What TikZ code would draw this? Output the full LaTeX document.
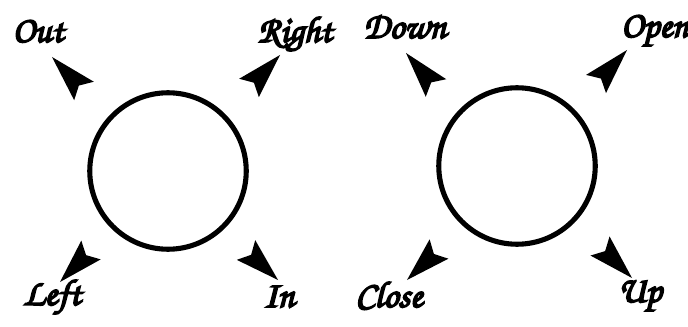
\documentclass[tikz,border=0pt]{standalone}
\usepackage{tikz}
\usetikzlibrary{calc}
\font\calli="[texgyrechorus-mediumitalic.otf]:embolden=4.5" at 21pt

\begin{document}
\begin{tikzpicture}[x=0.02cm, y=-0.02cm,
      dial/.style={draw, circle, line width=2.9pt, inner sep=0pt, minimum size=3.13cm},
      flick/.style={fill=black},
      word/.style={font=\calli, anchor=base, inner sep=0pt}]
    \path[use as bounding box] (0,0) rectangle (688,327);
    % left dial
    \node[dial] (ldial) at (168,171) {};
    \coordinate (outback) at (84,91);    \coordinate (outtip) at (52,57);
    \coordinate (rightback) at (249,88); \coordinate (righttip) at (280,55);
    \coordinate (leftback) at (91,250);  \coordinate (lefttip) at (60,282);
    \coordinate (inback) at (246,250);   \coordinate (intip) at (278,280);
    % right dial
    \node[dial] (rdial) at (517,166) {};
    \coordinate (downback) at (436,88);   \coordinate (downtip) at (406,53);
    \coordinate (openback) at (596,84);   \coordinate (opentip) at (627,50);
    \coordinate (closeback) at (439,249); \coordinate (closetip) at (407,280);
    \coordinate (upback) at (600,246);    \coordinate (uptip) at (632,278);
    % arrowheads
    \foreach \b/\t in {outback/outtip, rightback/righttip, leftback/lefttip, inback/intip,
                       downback/downtip, openback/opentip, closeback/closetip, upback/uptip}
      \fill[flick] ($(\b)!0.27cm!90:(\t)$) -- (\t) -- ($(\b)!0.27cm!-90:(\t)$)
        -- ($(\b)!0.16!(\t)$) -- cycle;
    % labels
    \node[word] (out)   at (38,42)  {Out};
    \node[word] (right) at (295,42) {Right};
    \node[word] (left)  at (52,305) {Left};
    \node[word] (in)    at (279,307) {In};
    \node[word] (down)  at (405,38)  {Down};
    \node[word] (open)  at (655,37)  {Open};
    \node[word] (close) at (389,307) {Close};
    \node[word] (up)    at (640,302) {Up};
  \end{tikzpicture}
\end{document}
